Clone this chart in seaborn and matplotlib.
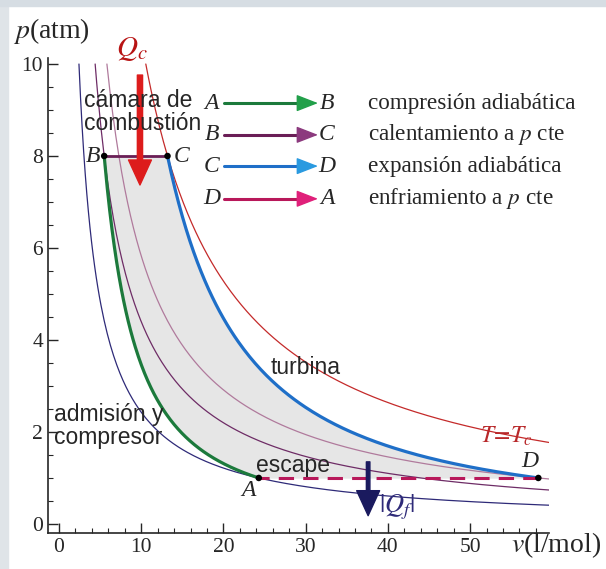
import matplotlib
matplotlib.use("Agg")
import matplotlib.pyplot as plt
import numpy as np
import pandas as pd
import seaborn as sns

# state points of the cycle (v in l/mol, p in atm)
states = ["A", "B", "C", "D"]
v_state = [24.3, 5.5, 13.2, 58.3]
p_state = [1.0, 8.0, 8.0, 1.0]
gamma = 1.4

# isotherms drawn through each state point
iso_through = ["A", "B", "D", "C"]
iso_colors = ["#2e2a78", "#6e2c66", "#b07a9c", "#c42a2a"]

legend_start = ["A", "B", "C", "D"]
legend_end = ["B", "C", "D", "A"]
legend_text = ["compresión adiabática", "calentamiento a $p$ cte",
               "expansión adiabática", "enfriamiento a $p$ cte"]
legend_line = ["#1c7a3c", "#6a1e56", "#1f6fc8", "#b8185a"]
legend_head = ["#22a04a", "#8c3a7e", "#2a9ae0", "#e0207a"]

sns.set_style("ticks")
plt.rcParams["font.family"] = ["Liberation Serif", "DejaVu Serif"]
plt.rcParams["mathtext.fontset"] = "stix"

fig = plt.figure(figsize=(6.06, 5.69), dpi=100)
ax = fig.add_axes([0.079, 0.063, 0.827, 0.835])

# screenshot frame
fig.patches.append(plt.Rectangle((0, 0), 0.014, 1, transform=fig.transFigure,
                                 color="#dfe4e8", zorder=0))
fig.patches.append(plt.Rectangle((0, 0.99), 1, 0.01, transform=fig.transFigure,
                                 color="#d6dde3", zorder=0))

pv = dict(zip(states, zip(v_state, p_state)))
vmax = 59.6

# isotherms p v = const
for name, col in zip(iso_through, iso_colors):
    k = pv[name][0] * pv[name][1]
    vv = np.linspace(k / 10.0, vmax, 300)
    sns.lineplot(x=vv, y=k / vv, ax=ax, color=col, lw=0.9, sort=False)

# adiabats p v^gamma = const
def adiabat(v0, v1, ref):
    k = pv[ref][1] * pv[ref][0] ** gamma
    vv = np.linspace(v0, v1, 200)
    return vv, k / vv ** gamma

vab, pab = adiabat(pv["A"][0], pv["B"][0], "A")
vcd, pcd = adiabat(pv["C"][0], pv["D"][0], "C")

poly_v = np.concatenate([vab, vcd, [pv["A"][0]]])
poly_p = np.concatenate([pab, pcd, [pv["A"][1]]])
ax.fill(poly_v, poly_p, color="#e6e6e6", zorder=1)

sns.lineplot(x=vab, y=pab, ax=ax, color=legend_line[0], lw=2.3, sort=False)
sns.lineplot(x=vcd, y=pcd, ax=ax, color=legend_line[2], lw=2.3, sort=False)
bc = pd.DataFrame({"v": [pv["B"][0], pv["C"][0]], "p": [pv["B"][1], pv["C"][1]]})
sns.lineplot(data=bc, x="v", y="p", ax=ax, color=legend_line[1], lw=2.0)
ax.plot([pv["D"][0], pv["A"][0]], [pv["D"][1], pv["A"][1]], color=legend_line[3],
        lw=2.2, ls=(0, (5, 3)))

sns.scatterplot(x=v_state, y=p_state, ax=ax, color="black", s=22, zorder=5,
                edgecolor="none")

# point labels
lab_kw = dict(fontsize=17, ha="center", va="center", style="italic")
ax.text(23.0, 0.72, "A", **lab_kw)
ax.text(4.1, 8.0, "B", **lab_kw)
ax.text(14.9, 8.0, "C", **lab_kw)
ax.text(57.3, 1.35, "D", **lab_kw)

# heat arrows
ax.annotate("", xy=(9.85, 7.37), xytext=(9.85, 9.76),
            arrowprops=dict(arrowstyle="simple,head_width=1.1,head_length=1.2,tail_width=0.25",
                            color="#dd1c1c", mutation_scale=15, shrinkA=0, shrinkB=0))
ax.text(8.9, 10.32, "$Q_c$", color="#b81414", fontsize=21, ha="center", va="center",
        clip_on=False)
ax.annotate("", xy=(37.6, 0.18), xytext=(37.6, 1.35),
            arrowprops=dict(arrowstyle="simple,head_width=1.1,head_length=1.2,tail_width=0.17",
                            color="#1a1a5e", mutation_scale=15, shrinkA=0, shrinkB=0))
ax.text(41.1, 0.37, "$|Q_f|$", color="#2e2a78", fontsize=19, ha="center", va="center")
ax.text(51.2, 1.9, "$T\\!=\\!T_c$", color="#b8282a", fontsize=17, ha="left", va="center")

# region labels
sans = ["Liberation Sans", "DejaVu Sans"]
ax.text(3.0, 9.45, "cámara de\ncombustión", family=sans, fontsize=16.5, va="top",
        ha="left", linespacing=1.0)
ax.text(-0.6, 2.62, "admisión y\ncompresor", family=sans, fontsize=16.5, va="top",
        ha="left", linespacing=1.0)
ax.text(25.7, 3.4, "turbina", family=sans, fontsize=16.5, va="center", ha="left")
ax.text(24.0, 1.28, "escape", family=sans, fontsize=16.5, va="center", ha="left")

# legend of processes
rows = [9.15, 8.46, 7.78, 7.07]
for y, s, e, t, lc, hc in zip(rows, legend_start, legend_end, legend_text,
                              legend_line, legend_head):
    ax.text(18.6, y, s, fontsize=17, style="italic", ha="center", va="center")
    ax.plot([20.1, 30.0], [y, y], color=lc, lw=2.2)
    ax.annotate("", xy=(31.5, y), xytext=(29.5, y),
                arrowprops=dict(arrowstyle="-|>,head_width=0.35,head_length=0.9",
                                color=hc, mutation_scale=15, shrinkA=0, shrinkB=0))
    ax.text(32.6, y, e, fontsize=17, style="italic", ha="center", va="center")
    ax.text(37.6, y, t, fontsize=16.7, ha="left", va="center")

ax.set_xlim(-1.35, vmax)
ax.set_ylim(-0.2, 10.13)
ax.set_xticks([0, 10, 20, 30, 40, 50])
ax.set_yticks([0, 2, 4, 6, 8, 10])
ax.set_xticks(np.arange(0, 60, 2), minor=True)
ax.set_yticks(np.arange(0, 10.1, 0.5), minor=True)
ax.tick_params(axis="both", which="major", direction="in", length=7, width=1,
               labelsize=15.5)
ax.tick_params(axis="both", which="minor", direction="in", length=3.5, width=0.8)
ax.set_xlabel("")
ax.set_ylabel("")
sns.despine(ax=ax)
for sp in ["left", "bottom"]:
    ax.spines[sp].set_linewidth(1.2)

fig.text(0.022, 0.945, "$p$(atm)", fontsize=20, ha="left", va="center")
fig.text(0.992, 0.042, "$v$(l/mol)", fontsize=20, ha="right", va="center")

fig.savefig("out.png", dpi=100, facecolor="white")
